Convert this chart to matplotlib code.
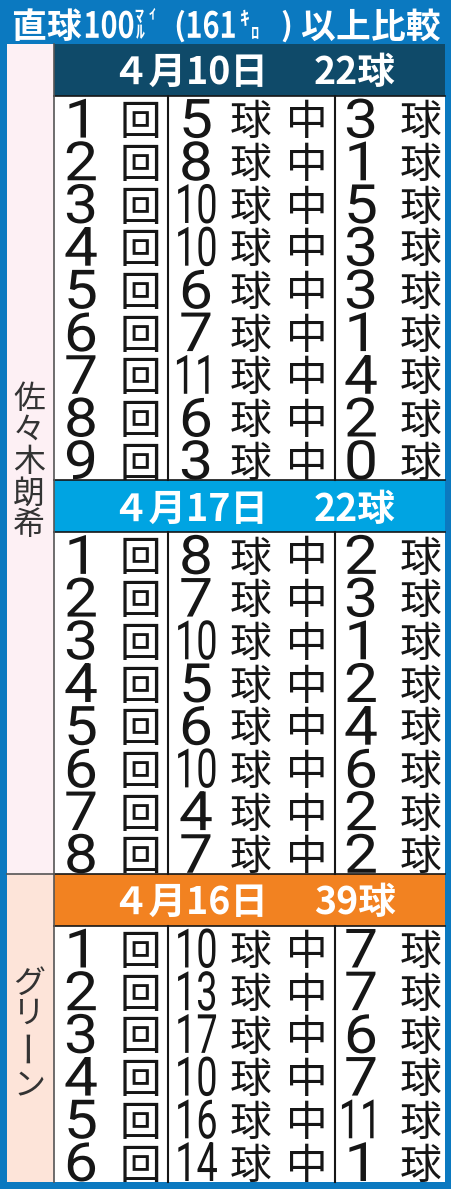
import matplotlib
matplotlib.use("Agg")
import matplotlib.pyplot as plt
from matplotlib.patches import Rectangle
from matplotlib.patheffects import AbstractPathEffect
from matplotlib.transforms import Affine2D

# ---- data ----
pitchers = ["佐々木朗希", "グリーン"]
game_dates = ["４月10日", "４月17日", "４月16日"]
game_pitcher = [0, 0, 1]

# pitches thrown per inning / of which 100mph or faster
sasaki_0410_pitches = [5, 8, 10, 10, 6, 7, 11, 6, 3]
sasaki_0410_over100 = [3, 1, 5, 3, 3, 1, 4, 2, 0]
sasaki_0417_pitches = [8, 7, 10, 5, 6, 10, 4, 7]
sasaki_0417_over100 = [2, 3, 1, 2, 4, 6, 2, 2]
green_0416_pitches = [10, 13, 17, 10, 16, 14]
green_0416_over100 = [7, 7, 6, 7, 11, 1]

games = [
    (sasaki_0410_pitches, sasaki_0410_over100),
    (sasaki_0417_pitches, sasaki_0417_over100),
    (green_0416_pitches, green_0416_over100),
]

# ---- style ----
JP = ["Noto Sans CJK JP", "DejaVu Sans"]
NUM = ["Roboto", "Liberation Sans", "DejaVu Sans"]
BLUE = "#0b79c0"
HEAD_COLORS = ["#0f4a69", "#00a4e2", "#f28221"]
SIDE_COLORS = ["#fdf0f4", "#fde4d9"]
INK = "#161616"

W, H = 451, 1189
TABLE_TOP = 44
HEAD_H = 52
ROW_H = 42.7
X_LEFT, X_SIDE, X_RIGHT = 7, 54, 445
DIV1, DIV2 = 168, 335
PX = 100 / 72  # px per point


class Squeeze(AbstractPathEffect):
    """scale the drawn glyphs horizontally around their own centre"""
    def __init__(self, sx=1.0):
        super().__init__()
        self.sx = sx

    def draw_path(self, renderer, gc, tpath, affine, rgbFace=None):
        bb = tpath.get_extents(affine)
        cx = (bb.x0 + bb.x1) / 2
        t = affine + Affine2D().translate(-cx, 0).scale(self.sx, 1).translate(cx, 0)
        renderer.draw_path(gc, tpath, t, rgbFace)


fig = plt.figure(figsize=(W / 100, H / 100), dpi=100)
fig.patch.set_facecolor(BLUE)
ax = fig.add_axes([0, 0, 1, 1])
ax.set_xlim(0, W)
ax.set_ylim(H, 0)
ax.axis("off")


def put(x, y, s, size, sx=1.0, color=INK, weight="normal", ha="center",
        family=JP, **kw):
    pe = [Squeeze(sx)] if sx != 1.0 else []
    ax.text(x, y, s, fontsize=size, family=family, color=color, weight=weight,
            ha=ha, va="baseline", path_effects=pe, **kw)


def kanji(x, cy, s, size, **kw):
    put(x, cy + 0.38 * size * PX, s, size, **kw)


def digits(x, cy, s, size, **kw):
    put(x, cy + 0.355 * size * PX, s, size, **kw)


def cell_num(x, cy, n):
    # single figures are drawn wide, two-figure numbers condensed
    sx = 0.7 if n >= 10 else 1.12
    digits(x, cy, str(n), 39, sx=sx, family=NUM)


# ---- title ----
T = 25
kanji(28, 25, "直", T, color="white", weight="bold")
kanji(64, 25, "球", T, color="white", weight="bold")
digits(109, 25, "100", 26, sx=0.8, color="white", weight="bold")
put(139, 22, "ﾏ", 13, color="white", weight="bold")
put(152, 18, "ｲ", 10, color="white", weight="bold")
put(140, 38, "ﾙ", 13, color="white", weight="bold")
put(179, 36, "(", 23, color="white", weight="bold")
digits(211, 25, "161", 26, sx=0.8, color="white", weight="bold")
put(244, 25, "ｷ", 14, color="white", weight="bold")
put(255, 38, "ﾛ", 12, color="white", weight="bold")
put(286, 36, ")", 23, color="white", weight="bold")
for cx, ch in zip([317, 353, 388, 423], "以上比較"):
    kanji(cx, 25, ch, T, color="white", weight="bold")

# ---- blocks ----
y = TABLE_TOP
side_spans = {}
for g, (pitches, over) in enumerate(games):
    p = game_pitcher[g]
    start = y
    # header band
    ax.add_patch(Rectangle((X_SIDE, y), X_RIGHT - X_SIDE, HEAD_H,
                           facecolor=HEAD_COLORS[g], edgecolor="none"))
    hc = y + HEAD_H / 2
    kanji(190, hc, game_dates[g], 27, color="white", weight="bold")
    kanji(355, hc, f"{sum(over)}球", 27, color="white", weight="bold")
    y += HEAD_H
    rows_top = y
    ax.add_patch(Rectangle((X_SIDE, y), X_RIGHT - X_SIDE, ROW_H * len(pitches),
                           facecolor="white", edgecolor="none"))
    ax.plot([X_SIDE, X_RIGHT], [y, y], color=INK, lw=1.2)
    if g > 0:
        ax.plot([X_SIDE, X_RIGHT], [start, start], color=INK, lw=1.2)
    for i, (n, k) in enumerate(zip(pitches, over)):
        cy = y + ROW_H * i + ROW_H / 2 + 1
        cell_num(81, cy, i + 1)
        kanji(140, cy + 1, "回", 30)
        cell_num(196, cy, n)
        kanji(251, cy + 1, "球", 30)
        kanji(307, cy + 1, "中", 30)
        cell_num(361, cy, k)
        kanji(421, cy + 1, "球", 30)
    y += ROW_H * len(pitches)
    for xd in (DIV1, DIV2):
        ax.plot([xd, xd], [rows_top, y], color=INK, lw=1.5)
    lo, hi = side_spans.get(p, (start, y))
    side_spans[p] = (min(lo, start), max(hi, y))

# ---- pitcher column ----
for p, (lo, hi) in side_spans.items():
    ax.add_patch(Rectangle((X_LEFT, lo), X_SIDE - X_LEFT, hi - lo,
                           facecolor=SIDE_COLORS[p], edgecolor="none"))
ax.plot([X_LEFT, X_SIDE], [side_spans[1][0], side_spans[1][0]], color="#555555", lw=1.2)
ax.plot([X_SIDE - 0.5, X_SIDE - 0.5], [TABLE_TOP, y], color="#555555", lw=1.2)

# vertical names
for i, ch in enumerate(pitchers[0]):
    kanji(29, 396 + 31.5 * i, ch, 23, color="#333333")
green_y = [981, 1011, 1045, 1083]
for ch, cy in zip(pitchers[1], green_y):
    if ch == "ー":
        ax.text(29, cy, ch, fontsize=26, family=JP, color="#333333",
                rotation=90, ha="center", va="center")
    else:
        kanji(29, cy, ch, 23, color="#333333")

fig.savefig("out.png", dpi=100, facecolor=BLUE)
